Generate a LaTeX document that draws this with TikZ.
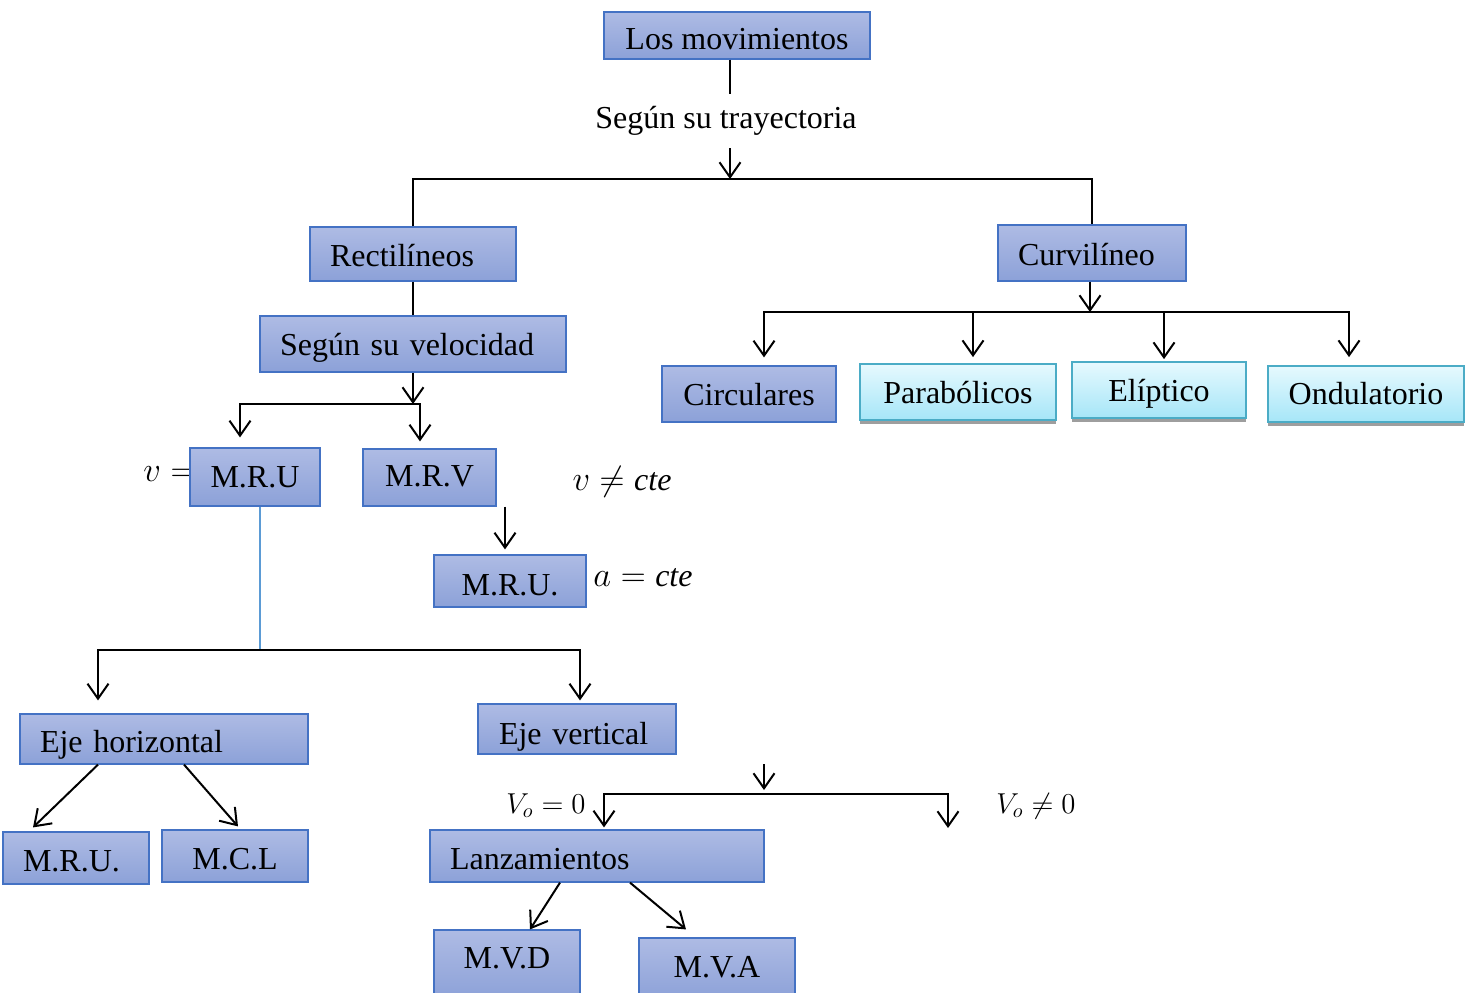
\documentclass[tikz,border=0pt]{standalone}
\usepackage{fontspec}
\setmainfont{Liberation Serif}
\usetikzlibrary{arrows.meta,shadows}
\definecolor{btop}{HTML}{AEBBE4}
\definecolor{bbot}{HTML}{8CA1D8}
\definecolor{bborder}{HTML}{4472C4}
\definecolor{ctop}{HTML}{E6F9FE}
\definecolor{cbot}{HTML}{A6E6F8}
\definecolor{cborder}{HTML}{4BACC6}
\definecolor{thinblue}{HTML}{5B9BD5}
\begin{document}
\begin{tikzpicture}[x=0.5pt,y=-0.5pt,
  wh/.style 2 args={minimum width=#1*0.5pt, minimum height=#2*0.5pt},
  bl/.style={text height=#1pt, text depth=0pt},
  box/.style={draw=bborder, line width=0.6pt, top color=btop, bottom color=bbot,
    font=\fontsize{16}{19}\selectfont, inner sep=0pt, align=center, bl=12},
  cbox/.style={draw=cborder, line width=0.9pt, top color=ctop, bottom color=cbot,
    font=\fontsize{16}{19}\selectfont, inner sep=0pt, align=center, bl=11,
    drop shadow={shadow xshift=0pt, shadow yshift=-2.2pt, fill=black!38, opacity=1}},
  lbox/.style={align=left, inner xsep=10pt, text width=#1pt},
  lab/.style={font=\fontsize{16}{19}\selectfont, inner sep=0pt, anchor=base},
  slab/.style={font=\fontsize{14}{17}\selectfont, inner sep=0pt, anchor=base},
  arr/.style={line width=1pt, -{Straight Barb[length=7.5pt,width=10.5pt]}},
  con/.style={line width=1pt}]
\clip (0,0) rectangle (1470,992);

% top
\node[box, wh={266}{47}, bl=14] (mov) at (737,35.5) {Los movimientos};
\node[lab] (tray) at (726,128) {Según su trayectoria};
\coordinate (j1) at (730,179);
\draw[con] (mov.south -| j1) -- ++(0,34);
\draw[arr] (j1) ++(0,-31) -- (j1);

\node[box, wh={206}{54}, lbox=83] (rect) at (413,254) {Rectilíneos};
\node[box, wh={188}{56}, lbox=74] (curv) at (1092,253) {Curvilíneo};
\draw[con] (rect.north) -- (rect.north |- j1) -- (curv.north |- j1) -- (curv.north);

% left branch
\node[box, wh={306}{56}, lbox=133, bl=11] (vel) at (413,344) {Según su velocidad};
\draw[con] (rect.south) -- (vel.north);
\coordinate (j2) at (413,404);
\draw[arr] (vel.south) -- (j2);

\node[lab, anchor=base west] (veq) at (143,481) {\(v =\)};
\node[box, wh={130}{58}, bl=10] (mru1) at (255,477) {M.R.U};
\node[box, wh={133}{57}, bl=9] (mrv) at (429.5,477.5) {M.R.V};
\draw[arr, shorten >=5pt] (j2) -| ([xshift=-7.5pt]mru1.north);
\draw[arr, shorten >=3.5pt] (j2) -| ([xshift=-4.75pt]mrv.north);

\node[lab] (vne) at (622,490) {\(v \neq \mathit{cte}\)};
\node[box, wh={152}{52}, bl=14] (mru2) at (510,581) {M.R.U.};
\node[lab] (aeq) at (643,586) {\(a = \mathit{cte}\)};
\coordinate (k1) at ([xshift=-2.5pt]mru2.north);
\draw[arr, shorten >=2.5pt] (k1 |- mrv.south) -- (k1);

\coordinate (j3) at (260,650);
\draw[thinblue, line width=0.6pt] (mru1.south -| j3) -- (j3);

\node[box, wh={288}{50}, lbox=124, bl=13] (ejeh) at (164,739) {Eje horizontal};
\node[box, wh={198}{50}, lbox=78, bl=15, inner xsep=10.5pt] (ejev) at (577,729) {Eje vertical};
\draw[arr, shorten >=6.5pt] (j3) -| ([xshift=-33pt]ejeh.north);
\draw[arr, shorten >=1.5pt] (j3) -| ([xshift=1.5pt]ejev.north);

\node[box, wh={146}{52}, lbox=53, bl=13] (mru3) at (76,858) {M.R.U.};
\node[box, wh={146}{52}, bl=13] (mcl) at (235,856) {M.C.L};
\draw[arr] ([xshift=-33pt]ejeh.south) -- ([xshift=-21.5pt,yshift=2pt]mru3.north);
\draw[arr] ([xshift=10pt]ejeh.south) -- ([xshift=1.5pt,yshift=1.5pt]mcl.north);

\coordinate (j5) at (764,794);
\draw[arr, shorten >=2pt] (j5) ++(0,-30) -- (j5);
\node[box, wh={334}{52}, lbox=147, bl=13] (lanz) at (597,856) {Lanzamientos};
\coordinate (j6) at (948,828);
\draw[arr, shorten >=1pt] (j5) -| ([xshift=3.5pt]lanz.north);
\draw[arr] (j5) -| (j6);
\node[slab] (v0) at (546,813) {\(V_o = 0\)};
\node[slab] (v0n) at (1036,813) {\(V_o \neq 0\)};

\node[box, wh={146}{70}, bl=3] (mvd) at (507,965) {M.V.D};
\node[box, wh={156}{62}, bl=8] (mva) at (717,969) {M.V.A};
\draw[arr] ([xshift=-18.5pt]lanz.south) -- ([xshift=11.5pt]mvd.north);
\draw[arr] ([xshift=16.5pt]lanz.south) -- ([xshift=-15.5pt,yshift=4pt]mva.north);

% right branch
\coordinate (j7) at (1090,312);
\draw[arr] (curv.south -| j7) -- (j7);
\node[box, wh={174}{56}, bl=11] (circ) at (749,394) {Circulares};
\node[cbox, wh={196}{56}] (para) at (958,392) {Parabólicos};
\node[cbox, wh={174}{56}] (elip) at (1159,390) {Elíptico};
\node[cbox, wh={196}{56}, bl=10] (ond) at (1366,394) {Ondulatorio};
\draw[arr, shorten >=4pt] (j7) -| ([xshift=7.5pt]circ.north);
\draw[arr, shorten >=3pt] (j7) -| ([xshift=7.5pt]para.north);
\draw[arr, shorten >=1pt] (j7) -| ([xshift=2.5pt]elip.north);
\draw[arr, shorten >=4pt] (j7) -| ([xshift=-8.5pt]ond.north);
\end{tikzpicture}
\end{document}
